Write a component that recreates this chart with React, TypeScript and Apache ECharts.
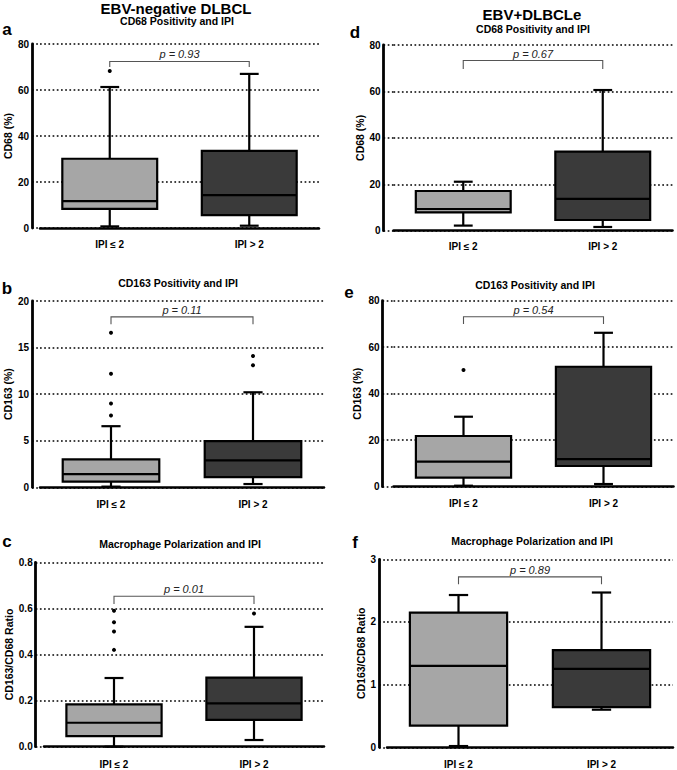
import React, { useEffect, useRef } from "react";
import * as echarts from "echarts";

const categories = ["IPI ≤ 2", "IPI > 2"];

// box values: [min, Q1, median, Q3, max]
const aLow = [0.7, 8.3, 11.7, 30.1, 61.3];
const aHigh = [1.0, 5.6, 14.3, 33.5, 67.0];
const aOutLow = [68.3];
const aOutHigh: number[] = [];
const aBracket = [70, 72.4];
const aP = "p = 0.93";

const bLow = [0.07, 0.6, 1.42, 3.0, 6.56];
const bHigh = [0.35, 1.1, 2.89, 4.96, 10.2];
const bOutLow = [16.6, 12.2, 9.0, 7.7];
const bOutHigh = [14.1, 13.1];
const bBracket = [17.5, 18.3];
const bP = "p = 0.11";

const cLow = [0.0, 0.046, 0.104, 0.184, 0.298];
const cHigh = [0.029, 0.116, 0.188, 0.3, 0.52];
const cOutLow = [0.59, 0.54, 0.5, 0.42];
const cOutHigh = [0.578];
const cBracket = [0.619, 0.653];
const cP = "p = 0.01";

const dLow = [2.2, 7.9, 9.35, 17.1, 21.1];
const dHigh = [1.6, 4.6, 13.7, 34.1, 60.6];
const dOutLow: number[] = [];
const dOutHigh: number[] = [];
const dBracket = [69.7, 73.3];
const dP = "p = 0.67";

const eLow = [0.43, 3.87, 10.75, 21.8, 30.1];
const eHigh = [1.15, 8.9, 11.9, 51.6, 66.2];
const eOutLow = [50.2];
const eOutHigh: number[] = [];
const eBracket = [70, 73.1];
const eP = "p = 0.54";

const fLow = [0.02, 0.345, 1.3, 2.15, 2.43];
const fHigh = [0.6, 0.64, 1.25, 1.55, 2.47];
const fOutLow: number[] = [];
const fOutHigh: number[] = [];
const fBracket = [2.6, 2.72];
const fP = "p = 0.89";

const yMaxes = [80, 20, 0.8, 80, 80, 3];
const yIntervals = [20, 5, 0.2, 20, 20, 1];
const yNames = ["CD68 (%)", "CD163 (%)", "CD163/CD68 Ratio", "CD68 (%)", "CD163 (%)", "CD163/CD68 Ratio"];
const subtitles = [
  "CD68 Positivity and IPI",
  "CD163 Positivity and IPI",
  "Macrophage Polarization and IPI",
  "CD68 Positivity and IPI",
  "CD163 Positivity and IPI",
  "Macrophage Polarization and IPI",
];
const panelLetters = ["a", "b", "c", "d", "e", "f"];
const groupTitles = ["EBV-negative DLBCL", "EBV+DLBCLe"];

const FONT = '"Liberation Sans", Arial, Helvetica, sans-serif';
const LIGHT = "#a6a6a6";
const DARK = "#3a3a3a";

// layout per panel
const grids = [
  { left: 40, top: 44, width: 279, height: 184 },
  { left: 40, top: 301, width: 284, height: 186.3 },
  { left: 44, top: 562.3, width: 280, height: 184.4 },
  { left: 393.5, top: 45, width: 279, height: 185.7 },
  { left: 393.5, top: 300.7, width: 280, height: 186 },
  { left: 387, top: 559.3, width: 286, height: 188 },
];
const yOffsets = [8, 8, 8.3, 10, 11, 8];
const xOffsets = [7, 8, 8.3, 7, 7.3, 8.4];
const nameGaps = [17, 17, 19.5, 16, 20, 12.5];
const subtitlePos = [
  [177, 21],
  [178, 283],
  [180, 544],
  [533, 29],
  [535, 285],
  [532, 541],
];
const letterPos = [
  [7, 29],
  [7, 288],
  [7, 541],
  [355, 32],
  [349, 292],
  [355, 542],
];
const groupTitlePos = [
  [176, 8],
  [532, 14],
];

export default function App() {
  const ref = useRef<HTMLDivElement>(null);
  useEffect(() => {
    if (!ref.current) return;
    const chart = echarts.init(ref.current, undefined, { renderer: "svg" });

    const panels = [
      { low: aLow, high: aHigh, outLow: aOutLow, outHigh: aOutHigh, bracket: aBracket, p: aP },
      { low: bLow, high: bHigh, outLow: bOutLow, outHigh: bOutHigh, bracket: bBracket, p: bP },
      { low: cLow, high: cHigh, outLow: cOutLow, outHigh: cOutHigh, bracket: cBracket, p: cP },
      { low: dLow, high: dHigh, outLow: dOutLow, outHigh: dOutHigh, bracket: dBracket, p: dP },
      { low: eLow, high: eHigh, outLow: eOutLow, outHigh: eOutHigh, bracket: eBracket, p: eP },
      { low: fLow, high: fHigh, outLow: fOutLow, outHigh: fOutHigh, bracket: fBracket, p: fP },
    ];

    const dotted = { color: "#000", width: 1.7, type: [1.7, 2.5] as any };

    const gridOpt = grids.map((g) => ({ ...g, containLabel: false }));
    const xAxis = grids.map((_, i) => ({
      type: "category",
      gridIndex: i,
      data: categories,
      offset: xOffsets[i],
      axisLine: { lineStyle: { color: "#000", width: 2.5 } },
      axisTick: { alignWithLabel: true, length: 3, lineStyle: { color: "#000", width: 1.5 } },
      axisLabel: { color: "#000", fontWeight: "bold", fontSize: 10, fontFamily: FONT, margin: 4 },
      splitLine: { show: false },
    }));
    const yAxis = grids.map((_, i) => ({
      type: "value",
      gridIndex: i,
      min: 0,
      max: yMaxes[i],
      interval: yIntervals[i],
      offset: yOffsets[i],
      name: yNames[i],
      nameLocation: "middle",
      nameGap: nameGaps[i],
      nameTextStyle: { color: "#000", fontWeight: "bold", fontSize: 10.5, fontFamily: FONT },
      axisLine: { show: true, lineStyle: { color: "#000", width: 2.8 } },
      axisTick: { show: true, inside: true, length: yOffsets[i], lineStyle: dotted },
      axisLabel: {
        color: "#000",
        fontWeight: "bold",
        fontSize: 10,
        fontFamily: FONT,
        margin: 3,
        formatter: (v: number) => (i === 2 ? v.toFixed(1) : String(v)),
      },
      splitLine: { show: true, lineStyle: dotted },
    }));

    const series: any[] = [];
    panels.forEach((p, i) => {
      series.push({
        type: "custom",
        xAxisIndex: i,
        yAxisIndex: i,
        clip: false,
        encode: { x: 0, y: [1, 2, 3, 4, 5] },
        data: [
          [0, ...p.low],
          [1, ...p.high],
        ],
        renderItem: (params: any, api: any) => {
          const ci = api.value(0);
          const mn = api.coord([ci, api.value(1)]);
          const q1 = api.coord([ci, api.value(2)]);
          const md = api.coord([ci, api.value(3)]);
          const q3 = api.coord([ci, api.value(4)]);
          const mx = api.coord([ci, api.value(5)]);
          const band = api.size([1, 0])[0];
          const bw = band * 0.68;
          const cw = band * 0.135;
          const x = mn[0];
          const ln = (x1: number, y1: number, x2: number, y2: number) => ({
            type: "line",
            shape: { x1, y1, x2, y2 },
            style: { stroke: "#000", lineWidth: 2.2 },
          });
          return {
            type: "group",
            children: [
              ln(x, mx[1], x, q3[1]),
              ln(x - cw / 2, mx[1], x + cw / 2, mx[1]),
              ln(x, q1[1], x, mn[1]),
              ln(x - cw / 2, mn[1], x + cw / 2, mn[1]),
              {
                type: "rect",
                shape: { x: x - bw / 2, y: q3[1], width: bw, height: q1[1] - q3[1] },
                style: { fill: ci === 0 ? LIGHT : DARK, stroke: "#000", lineWidth: 2.2 },
              },
              ln(x - bw / 2, md[1], x + bw / 2, md[1]),
            ],
          };
        },
        z: 2,
      });
      series.push({
        type: "scatter",
        xAxisIndex: i,
        yAxisIndex: i,
        symbolSize: 4,
        itemStyle: { color: "#000", opacity: 1 },
        data: [...p.outLow.map((v) => [0, v]), ...p.outHigh.map((v) => [1, v])],
        z: 3,
      });
      series.push({
        type: "custom",
        xAxisIndex: i,
        yAxisIndex: i,
        clip: false,
        encode: { x: [0, 1], y: [2, 3] },
        data: [[0, 1, p.bracket[0], p.bracket[1]]],
        renderItem: (params: any, api: any) => {
          const a0 = api.coord([api.value(0), api.value(2)]);
          const a1 = api.coord([api.value(0), api.value(3)]);
          const b1 = api.coord([api.value(1), api.value(3)]);
          const b0 = api.coord([api.value(1), api.value(2)]);
          return {
            type: "group",
            children: [
              {
                type: "polyline",
                shape: { points: [a0, a1, b1, b0] },
                style: { stroke: "#555", lineWidth: 1.1, fill: "none" },
              },
              {
                type: "text",
                x: (a1[0] + b1[0]) / 2,
                y: a1[1] - 1.5,
                style: {
                  text: p.p,
                  fill: "#222",
                  font: `italic 11px ${FONT}`,
                  align: "center",
                  verticalAlign: "bottom",
                },
              },
            ],
          };
        },
        z: 3,
      });
    });

    const graphic: any[] = [];
    groupTitles.forEach((t, i) => {
      graphic.push({
        type: "text",
        x: groupTitlePos[i][0],
        y: groupTitlePos[i][1],
        style: {
          text: t,
          fill: "#000",
          font: `bold 15px ${FONT}`,
          align: "center",
          verticalAlign: "middle",
        },
      });
    });
    subtitles.forEach((t, i) => {
      graphic.push({
        type: "text",
        x: subtitlePos[i][0],
        y: subtitlePos[i][1],
        style: {
          text: t,
          fill: "#000",
          font: `bold 10.5px ${FONT}`,
          align: "center",
          verticalAlign: "middle",
        },
      });
    });
    panelLetters.forEach((t, i) => {
      graphic.push({
        type: "text",
        x: letterPos[i][0],
        y: letterPos[i][1],
        style: {
          text: t,
          fill: "#000",
          font: `bold 17px ${FONT}`,
          align: "center",
          verticalAlign: "middle",
        },
      });
    });

    chart.setOption({
      animation: false,
      backgroundColor: "#fff",
      grid: gridOpt,
      xAxis,
      yAxis,
      series,
      graphic,
    });
    return () => chart.dispose();
  }, []);
  return (
    <div
      ref={ref}
      style={{ position: "absolute", left: 0, top: 0, width: 677, height: 770 }}
    />
  );
}
